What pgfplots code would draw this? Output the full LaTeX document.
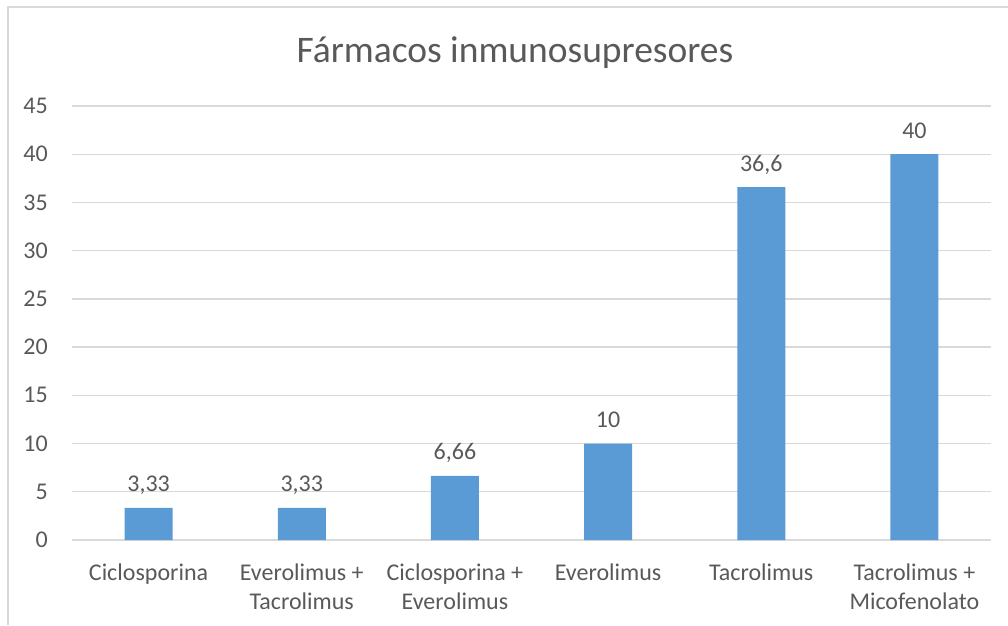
\documentclass[border=0pt]{standalone}
\usepackage{pgfplots}
\pgfplotsset{compat=1.18}
\usepackage{fontspec}
\setmainfont{Carlito}
\definecolor{barblue}{HTML}{5B9BD5}
\definecolor{txtgray}{HTML}{595959}
\definecolor{gridgray}{HTML}{D9D9D9}
\newcommand{\lblfont}{\fontsize{24}{29}\selectfont}
\begin{document}
\begin{tikzpicture}[x=1pt,y=1pt]
\useasboundingbox (0,0) rectangle (1008,-625);
% chart frame (only left and top edges are visible in the crop)
\draw[gridgray, line width=1.3pt] (8,-625) -- (8,-7) -- (1008,-7);
\node[text=txtgray, font=\fontsize{37.5}{45}\selectfont] at (515,-53) {Fármacos inmunosupresores};
\begin{axis}[
  at={(72pt,-540pt)}, anchor=south west,
  scale only axis, width=919pt, height=434pt,
  xmin=-0.5, xmax=5.5, ymin=0, ymax=45,
  ytick={0,5,...,45},
  xtick={0,...,5},
  xticklabels={Ciclosporina, {Everolimus +\\Tacrolimus}, {Ciclosporina +\\Everolimus},
    Everolimus, Tacrolimus, {Tacrolimus +\\Micofenolato}},
  axis line style={draw=none},
  major tick length=0pt,
  ymajorgrids,
  major grid style={gridgray, line width=1.3pt},
  /pgf/number format/assume math mode=true,
  yticklabel style={font=\lblfont, text=txtgray, inner sep=0pt, xshift=-24pt},
  xticklabel style={font=\lblfont, text=txtgray, align=center, inner sep=0pt,
    anchor=north, yshift=-24pt},
  ybar, bar width=48pt,
  point meta=explicit symbolic,
  nodes near coords,
  every node near coord/.append style={font=\lblfont, text=txtgray,
    anchor=base, inner sep=0pt, yshift=16pt},
  clip=false,
]
\addplot[fill=barblue, draw=none] coordinates {
  (0,3.33)[3,33] (1,3.33)[3,33] (2,6.66)[6,66]
  (3,10)[10] (4,36.6)[36,6] (5,40)[40]
};
\end{axis}
\end{tikzpicture}
\end{document}
